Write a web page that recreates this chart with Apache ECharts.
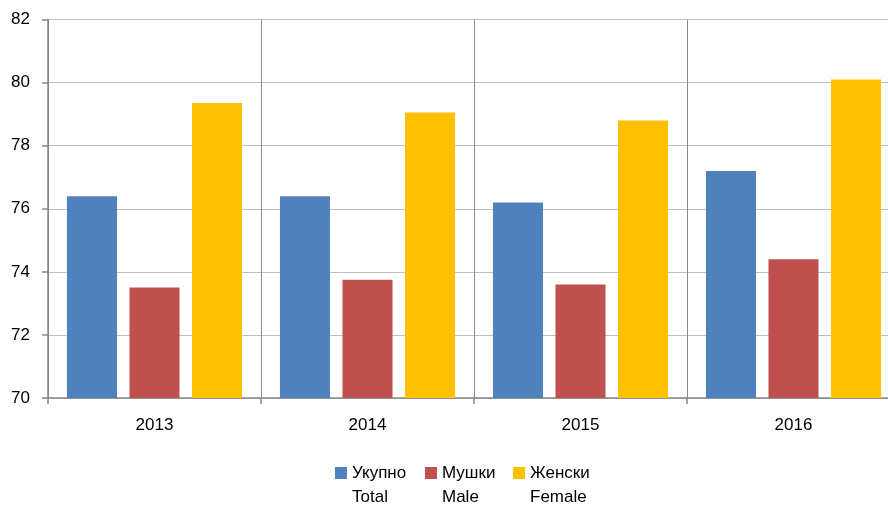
<!DOCTYPE html>
<html>
<head>
<meta charset="utf-8">
<script src="https://cdn.jsdelivr.net/npm/echarts@6/dist/echarts.min.js"></script>
<style>
html,body{margin:0;padding:0;background:#fff;}
#chart{width:888px;height:505px;}
</style>
</head>
<body>
<div id="chart"></div>
<script>
var categories = ['2013', '2014', '2015', '2016'];
var seriesNames = ['Укупно\nTotal', 'Мушки\nMale', 'Женски\nFemale'];
var totalValues = [76.4, 76.4, 76.2, 77.2];
var maleValues = [73.5, 73.75, 73.6, 74.4];
var femaleValues = [79.35, 79.05, 78.8, 80.1];
var colors = ['#4F81BD', '#C0504D', '#FFC000'];
var FONT = '"Liberation Sans", Arial, sans-serif';

var chart = echarts.init(document.getElementById('chart'), null, {renderer: 'canvas'});
var allValues = [totalValues, maleValues, femaleValues];
var series = seriesNames.map(function (n, i) {
  return {
    name: n,
    type: 'bar',
    data: allValues[i],
    barGap: '25%',
    barCategoryGap: '17.8%',
    itemStyle: {color: colors[i]},
    emphasis: {disabled: true}
  };
});
var legendLefts = [335, 425, 513];
function legendCfg(name, left, top, lineIdx, showIcon) {
  return {
    left: left,
    top: top,
    padding: 0,
    itemWidth: 12,
    itemHeight: 12,
    icon: 'rect',
    selectedMode: false,
    data: [name],
    itemStyle: showIcon ? {} : {opacity: 0},
    formatter: function (n) { return n.split('\n')[lineIdx]; },
    textStyle: {fontFamily: FONT, fontSize: 17, color: '#000'}
  };
}
var legends = [];
seriesNames.forEach(function (n, i) {
  legends.push(legendCfg(n, legendLefts[i], 464.5, 0, true));
  legends.push(legendCfg(n, legendLefts[i], 488.5, 1, false));
});
chart.setOption({
  animation: false,
  backgroundColor: '#fff',
  color: colors,
  grid: {left: 48, top: 19.5, right: -12, height: 378.5, containLabel: false, outerBoundsMode: 'none'},
  legend: legends,
  xAxis: {
    type: 'category',
    data: categories,
    boundaryGap: true,
    axisLine: {show: true, lineStyle: {color: '#868686', width: 1.5}},
    axisTick: {show: true, length: 6, alignWithLabel: false, lineStyle: {color: '#868686', width: 1.5}},
    axisLabel: {fontFamily: FONT, fontSize: 17, color: '#000', margin: 18.5},
    splitLine: {show: true, interval: 0, lineStyle: {color: '#8c8c8c', width: 1}}
  },
  yAxis: {
    type: 'value',
    min: 70,
    max: 82,
    interval: 2,
    axisLine: {show: true, lineStyle: {color: '#868686', width: 1.5}},
    axisTick: {show: true, length: 6, lineStyle: {color: '#868686', width: 1.5}},
    axisLabel: {fontFamily: FONT, fontSize: 17, color: '#000', margin: 18},
    splitLine: {show: true, lineStyle: {color: '#bfbfbf', width: 1}}
  },
  series: series
});
</script>
</body>
</html>
